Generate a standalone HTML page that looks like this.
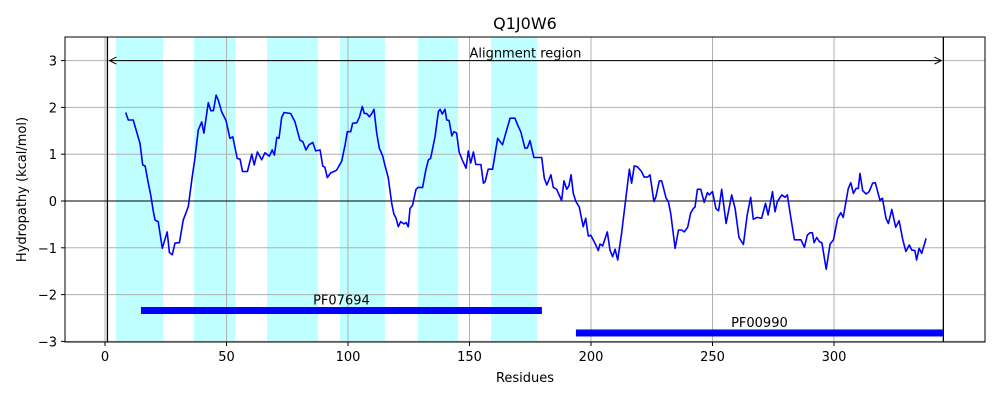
<!DOCTYPE html>
<html><head><meta charset="utf-8"><style>
body{margin:0;background:#fff;}
svg text{font-family:"DejaVu Sans","Liberation Sans",sans-serif;fill:#000;}
</style></head><body>
<svg id="chart" width="1000" height="400" xmlns="http://www.w3.org/2000/svg">
<rect width="1000" height="400" fill="#fff"/>
<g id="bands"></g><g id="grid"></g><g id="marks"></g><g id="ticks"></g>
<rect x="65" y="37" width="920" height="305" fill="none" stroke="#000" stroke-width="1"/>
<text x="525" y="29" font-size="16" text-anchor="middle">Q1J0W6</text>
<text x="525" y="382" font-size="13" text-anchor="middle">Residues</text>
<text transform="translate(26,189.5) rotate(-90)" font-size="13" text-anchor="middle">Hydropathy (kcal/mol)</text>
</svg>
<script>
const residues=[8.5,9.6,11.6,14.4,15.5,16.5,17.8,18.8,19.9,20.6,21.9,23.6,25.6,26.5,27.7,28.8,30.6,32.2,34.3,35.7,37,38.4,39.8,40.7,42.5,43.6,44.6,45.7,46.6,48,49.8,51.4,52.6,54.4,55.6,56.6,58.6,60.4,61.4,62.7,64.5,65.8,67.6,68.8,69.7,70.7,71.6,72.7,73.7,76.4,78.2,80.2,81.4,82.7,83.9,85.5,86.7,88.5,89.6,90.5,91.5,92.9,94.7,95.3,97.4,98.8,99.7,101.1,101.9,103.6,104.7,105.9,106.7,107.7,108.8,109.8,110.7,111.8,112.9,114.3,115.2,116.6,118,118.9,119.8,120.7,121.7,123,123.9,124.8,125.5,126.6,128,128.9,130.7,132,133.1,134,135.8,137.2,137.9,138.8,139.9,140.6,141.6,142.7,143.6,144.7,145.7,147,148.6,149.5,150.5,151.6,152.6,154.7,155.7,156.4,157.7,159.5,161.6,163.6,165.3,166.7,168.7,170.1,171.1,172.8,173.8,174.9,176.5,179.7,180.8,181.8,183.5,184.5,185.9,187.9,188.9,190,190.9,191.8,192.7,193.8,195.2,196.8,197.8,198.9,199.9,201.6,203,203.7,204.8,206.7,207.8,208.9,209.9,211,212.6,214.4,215.8,216.7,217.8,219.1,220.8,221.9,223.3,224.3,225.9,226.7,228.1,229.1,230.9,231.8,232.8,234.6,236,237.3,238.4,239.8,241,242.1,242.8,243.8,245.2,246.6,247.9,248.7,250,251.4,252.5,253.8,255.6,257.9,259.3,260.9,262.7,264.3,265.7,266.8,268.4,270.2,271.8,272.9,274.7,275.7,276.7,278.5,279.8,280.8,282.2,283.7,286.4,287.8,289,290.1,291.1,291.8,292.9,294,295,296.8,298.4,299.8,301.5,302.8,303.8,305.9,306.9,308,309.1,310,310.7,311.8,313.2,314.5,315.9,317,318.9,319.9,321.4,322.4,323.8,325.4,326.8,328.3,329.6,331,332,333.3,334,335,336.1,337.9];
const hydropathy=[1.89,1.73,1.73,1.23,0.77,0.75,0.38,0.13,-0.23,-0.41,-0.44,-1.01,-0.66,-1.10,-1.15,-0.90,-0.89,-0.41,-0.12,0.45,0.91,1.52,1.69,1.45,2.10,1.93,1.93,2.26,2.16,1.91,1.72,1.34,1.37,0.91,0.89,0.63,0.63,1.00,0.77,1.05,0.88,1.03,0.96,1.09,0.98,1.36,1.34,1.79,1.89,1.87,1.69,1.30,1.27,1.09,1.20,1.25,1.07,1.09,0.75,0.72,0.50,0.60,0.64,0.66,0.85,1.20,1.48,1.48,1.66,1.67,1.79,2.02,1.87,1.87,1.80,1.87,1.96,1.45,1.13,0.96,0.77,0.49,-0.05,-0.28,-0.37,-0.55,-0.44,-0.49,-0.46,-0.55,-0.16,-0.09,0.25,0.29,0.29,0.66,0.88,0.91,1.37,1.91,1.96,1.86,1.96,1.73,1.72,1.39,1.48,1.45,1.05,0.88,0.70,1.07,0.81,1.05,0.78,0.78,0.38,0.41,0.68,0.68,1.34,1.20,1.52,1.77,1.77,1.59,1.48,1.13,1.13,1.29,0.93,0.93,0.49,0.34,0.56,0.29,0.25,0.01,0.43,0.25,0.32,0.56,0.16,-0.01,-0.13,-0.55,-0.37,-0.75,-0.73,-0.90,-1.06,-0.92,-0.96,-0.66,-1.05,-1.19,-1.03,-1.26,-0.69,0.09,0.68,0.38,0.75,0.73,0.63,0.51,0.51,0.56,-0.01,0.09,0.43,0.43,0.06,-0.01,-0.26,-1.01,-0.62,-0.62,-0.66,-0.56,-0.26,-0.16,-0.13,0.25,0.25,-0.03,0.18,0.13,0.20,-0.16,-0.21,0.25,-0.48,0.13,-0.16,-0.78,-0.93,-0.30,0.08,-0.39,-0.35,-0.37,-0.05,-0.30,0.20,-0.23,-0.01,0.13,0.08,0.13,-0.34,-0.83,-0.83,-0.99,-0.73,-0.68,-0.68,-0.89,-0.78,-0.87,-0.89,-1.46,-0.92,-0.83,-0.37,-0.25,-0.35,0.27,0.39,0.16,0.27,0.27,0.59,0.22,0.15,0.20,0.38,0.39,0.02,0.06,-0.37,-0.48,-0.18,-0.56,-0.42,-0.83,-1.08,-0.94,-1.05,-1.06,-1.26,-1.01,-1.12,-0.80];
const bandStarts=[4.5,36.6,66.7,96.7,128.8,158.8];
const bandEnds=[24,53.5,87.7,115.2,145.3,177.8];
const domainNames=["PF07694","PF00990"];
const domainStarts=[14.8,193.8];
const domainEnds=[179.8,344.8];
const domainLevels=[-2.34,-2.82];
const alignStart=1, alignEnd=345, alignLevel=3;
const xTicks=[0,50,100,150,200,250,300];
const yTicks=[-3,-2,-1,0,1,2,3];

const X=r=>105+(r)*2.43;
const Y=v=>201-v*46.8;
const NS="http://www.w3.org/2000/svg";
function mk(parent,tag,attrs){const e=document.createElementNS(NS,tag);for(const k in attrs)e.setAttribute(k,attrs[k]);document.getElementById(parent).appendChild(e);return e;}

bandStarts.forEach((s,i)=>{
 const e=mk('bands','rect',{x:X(s),y:37,width:X(bandEnds[i])-X(s),height:305,fill:'#bfffff'});
 
 
});
xTicks.forEach(t=>{
 const g=mk('grid','line',{x1:X(t),x2:X(t),y1:37,y2:342,stroke:'#b0b0b0','stroke-width':1});
 
 
 const tk=mk('ticks','line',{x1:X(t),x2:X(t),y1:342,y2:346,stroke:'#000'});
 
 
 const tx=mk('ticks','text',{x:X(t),y:361,'font-size':13,'text-anchor':'middle'});
 tx.textContent=t;
 
 
});
yTicks.forEach(t=>{
 const g=mk('grid','line',{x1:65,x2:985,y1:Y(t),y2:Y(t),stroke:'#b0b0b0','stroke-width':1});
 
 
 const tk=mk('ticks','line',{x1:61,x2:65,y1:Y(t),y2:Y(t),stroke:'#000'});
 
 
 const tx=mk('ticks','text',{x:57,y:Y(t)+5,'font-size':13,'text-anchor':'end'});
 tx.textContent=(t<0?'\u2212'+(-t):t);
 
 
});
const zl=mk('marks','line',{x1:65,x2:985,y1:Y(0),y2:Y(0),stroke:'#000','stroke-width':1});


[alignStart,alignEnd].forEach(r=>{
 const v=mk('marks','line',{x1:X(r),x2:X(r),y1:37,y2:342,stroke:'#000','stroke-width':1.3});
 
 
});
const ay=Y(alignLevel), ax1=X(alignStart)+2, ax2=X(alignEnd)-2;
const ar=mk('marks','path',{d:`M${ax1} ${ay}H${ax2}M${ax1+7} ${ay-3.5}L${ax1} ${ay}L${ax1+7} ${ay+3.5}M${ax2-7} ${ay-3.5}L${ax2} ${ay}L${ax2-7} ${ay+3.5}`,stroke:'#000',fill:'none','stroke-width':1});


const at=mk('marks','text',{x:(X(alignStart)+X(alignEnd))/2,y:ay-3,'font-size':13,'text-anchor':'middle'});
at.textContent='Alignment region';


domainNames.forEach((n,i)=>{
 const b=mk('marks','rect',{x:X(domainStarts[i]),y:Y(domainLevels[i])-3.5,width:X(domainEnds[i])-X(domainStarts[i]),height:7,fill:'#0000ff'});
 
 
 const t=mk('marks','text',{x:(X(domainStarts[i])+X(domainEnds[i]))/2,y:Y(domainLevels[i])-6,'font-size':13,'text-anchor':'middle'});
 t.textContent=n;
 
 
});
const d=residues.map((r,i)=>(i?'L':'M')+X(r).toFixed(1)+' '+Y(hydropathy[i]).toFixed(1)).join('');
const ln=mk('marks','path',{d:d,fill:'none',stroke:'#0000ff','stroke-width':1.6,'stroke-linejoin':'round'});


</script>
</body></html>
